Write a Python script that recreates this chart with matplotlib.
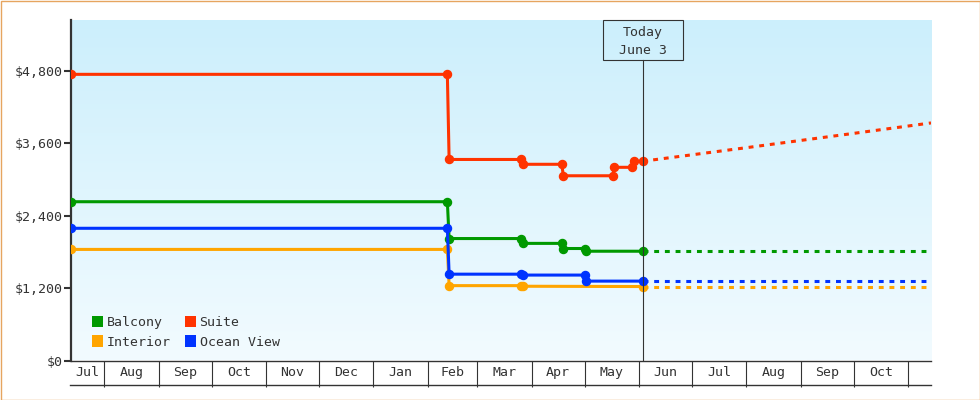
import numpy as np
import pandas as pd
import matplotlib
matplotlib.use("Agg")
import matplotlib.pyplot as plt
import matplotlib.dates as mdates
from matplotlib.patches import Rectangle, Patch
from matplotlib.lines import Line2D

plt.rcParams['font.family'] = ['DejaVu Sans Mono']
TXT = '#333333'

# ---- Data ----
start_date = '2018-07-13'
end_date = '2019-11-14'
today = '2019-06-03'

suite_dates = ['2018-07-13', '2019-02-12', '2019-02-13', '2019-03-26', '2019-03-27',
               '2019-04-18', '2019-04-19', '2019-05-17', '2019-05-18', '2019-05-28',
               '2019-05-29', '2019-06-03']
suite_vals = [4740, 4740, 3330, 3330, 3250, 3250, 3060, 3060, 3200, 3200, 3300, 3300]

balcony_dates = ['2018-07-13', '2019-02-12', '2019-02-13', '2019-03-26', '2019-03-27',
                 '2019-04-18', '2019-04-19', '2019-05-01', '2019-05-02', '2019-06-03']
balcony_vals = [2630, 2630, 2020, 2020, 1940, 1940, 1855, 1855, 1810, 1810]

ocean_dates = ['2018-07-13', '2019-02-12', '2019-02-13', '2019-03-26', '2019-03-27',
               '2019-05-01', '2019-05-02', '2019-06-03']
ocean_vals = [2190, 2190, 1430, 1430, 1415, 1415, 1315, 1315]

interior_dates = ['2018-07-13', '2019-02-12', '2019-02-13', '2019-03-26', '2019-03-27',
                  '2019-06-03']
interior_vals = [1840, 1840, 1240, 1240, 1230, 1225]

# forecast after today
fc_dates = ['2019-06-03', '2019-08-01', '2019-10-01', '2019-11-14']
suite_fc = [3300, 3525, 3762, 3935]
balcony_fc = [1810, 1810, 1810, 1810]
ocean_fc = [1315, 1315, 1315, 1315]
interior_fc = [1225, 1225, 1225, 1225]

y_ticks = [0, 1200, 2400, 3600, 4800]
month_names = ['Jul', 'Aug', 'Sep', 'Oct', 'Nov', 'Dec', 'Jan', 'Feb', 'Mar',
               'Apr', 'May', 'Jun', 'Jul', 'Aug', 'Sep', 'Oct']

colors = {'Balcony': '#009900', 'Suite': '#ff3300',
          'Interior': '#ffa500', 'Ocean View': '#0033ff'}

# ---- Figure ----
W, H = 980, 400
fig = plt.figure(figsize=(W / 100, H / 100), dpi=100)
ax = fig.add_axes([71 / W, (H - 360.5) / H, 860 / W, 340.5 / H])

x0 = mdates.date2num(pd.Timestamp(start_date))
x1 = mdates.date2num(pd.Timestamp(end_date))
ax.set_xlim(x0, x1)
ax.set_ylim(0, 5640)

# gradient background
grad = np.linspace(0, 1, 256).reshape(-1, 1)
cmap = matplotlib.colors.LinearSegmentedColormap.from_list('bg', ['#cceffc', '#f2fbff'])
ax.imshow(grad, extent=[0, 1, 0, 1], transform=ax.transAxes, aspect='auto',
          cmap=cmap, zorder=0)

def draw(name, dates, vals, fc):
    c = colors[name]
    d = pd.to_datetime(dates)
    ax.plot(d, vals, color=c, lw=2.2, marker='o', ms=5.8, zorder=3,
            solid_joinstyle='miter')
    ax.plot(pd.to_datetime(fc_dates), fc, color=c, lw=2.2, dashes=(1.6, 1.9),
            dash_capstyle='butt', zorder=3)

draw('Interior', interior_dates, interior_vals, interior_fc)
draw('Balcony', balcony_dates, balcony_vals, balcony_fc)
draw('Ocean View', ocean_dates, ocean_vals, ocean_fc)
draw('Suite', suite_dates, suite_vals, suite_fc)

# ---- Axes styling ----
for s in ['top', 'right']:
    ax.spines[s].set_visible(False)
ax.spines['left'].set_linewidth(1.6)
ax.spines['left'].set_color(TXT)
ax.spines['bottom'].set_linewidth(1.0)
ax.spines['bottom'].set_color(TXT)

ax.set_yticks(y_ticks)
ax.set_yticklabels(['$' + format(v, ',') for v in y_ticks])
ax.tick_params(axis='y', length=5, width=1.5, color=TXT, pad=1,
               labelsize=9.5, labelcolor=TXT)

# month cells along the x axis
bounds = pd.date_range('2018-08-01', '2019-11-01', freq='MS')
edges = [pd.Timestamp(start_date)] + list(bounds) + [pd.Timestamp(end_date)]
centers = [mdates.date2num(edges[i]) / 2 + mdates.date2num(edges[i + 1]) / 2
           for i in range(len(month_names))]
ax.set_xticks(bounds, minor=True)
ax.set_xticks(centers)
ax.set_xticklabels(month_names)
ax.tick_params(axis='x', which='minor', length=18.5, width=0.8, color=TXT)
ax.tick_params(axis='x', which='major', length=0, pad=4, labelsize=9.5,
               labelcolor=TXT)
fig.add_artist(Line2D([70 / W, 931 / W], [(H - 385) / H] * 2, color=TXT, lw=1.0))

# ---- Today marker ----
tx = ax.transData.transform((mdates.date2num(pd.Timestamp(today)), 0))[0]
fig.add_artist(Line2D([tx / W] * 2, [(H - 360) / H, (H - 60) / H], color=TXT, lw=0.8,
                      zorder=4))
fig.add_artist(Rectangle(((tx - 40) / W, (H - 60) / H), 80 / W, 40 / H, fill=False,
                         ec=TXT, lw=0.8, zorder=4))
fig.text(tx / W, (H - 32.5) / H, 'Today', ha='center', va='center', fontsize=9.5,
         color=TXT)
fig.text(tx / W, (H - 50) / H, 'June 3', ha='center', va='center', fontsize=9.5,
         color=TXT)

# ---- Legend ----
order = ['Balcony', 'Interior', 'Suite', 'Ocean View']
handles = [Patch(facecolor=colors[n], edgecolor='none', label=n) for n in order]
ax.legend(handles=handles, ncol=2, loc='upper left', frameon=False,
          bbox_to_anchor=(92 / W, (H - 315.5) / H), bbox_transform=fig.transFigure,
          borderpad=0, borderaxespad=0, fontsize=9.5, handlelength=0.85,
          handleheight=0.95, handletextpad=0.25, columnspacing=1.1,
          labelspacing=0.5, labelcolor=TXT)

# outer orange frame
fig.add_artist(Rectangle((0.5 / W, 0.5 / H), (W - 1) / W, (H - 1) / H, fill=False,
                         ec='#e6a560', lw=1.0, transform=fig.transFigure))

fig.savefig('out.png', dpi=100)
